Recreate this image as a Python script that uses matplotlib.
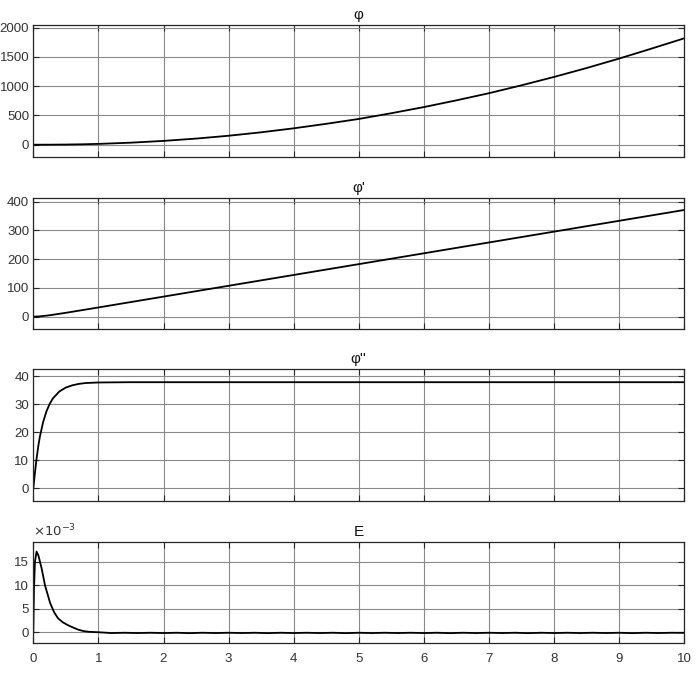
import matplotlib
matplotlib.use("Agg")
import matplotlib.pyplot as plt

plt.rcParams['font.family'] = ['Liberation Sans', 'DejaVu Sans']

# time samples (s)
t_main = [0, 0.1, 0.25, 0.5, 0.75, 1, 1.5, 2, 2.5, 3, 3.5, 4, 4.5, 5, 5.5, 6, 6.5,
          7, 7.5, 8, 8.5, 9, 9.5, 10]
phi = [0, 0.04, 0.45, 2.7, 7.2, 14, 34.8, 65, 104.5, 153, 212, 280, 357, 440, 538, 643, 758,
       880, 1015, 1158, 1310, 1472, 1643, 1818]
dphi = [0, 1.0, 4.8, 13.4, 22.7, 32, 50.9, 69.7, 88.6, 107.4, 126.3, 145.1, 164.0, 182.8,
        201.7, 220.5, 239.4, 258.2, 277.1, 295.9, 314.8, 333.6, 352.5, 371.3]

t_acc = [0, 0.025, 0.05, 0.075, 0.1, 0.15, 0.2, 0.25, 0.3, 0.4, 0.5, 0.6, 0.7, 0.8, 1.0,
         1.5, 2, 3, 4, 5, 6, 7, 8, 9, 10]
ddphi = [0, 5.5, 10.5, 14.8, 18.3, 23.5, 27.3, 30.0, 32.0, 34.5, 35.9, 36.7, 37.2, 37.5, 37.7,
         37.8, 37.8, 37.8, 37.8, 37.8, 37.8, 37.8, 37.8, 37.8, 37.8]

t_err = [0, 0.01, 0.025, 0.05, 0.08, 0.13, 0.18, 0.26, 0.32, 0.38, 0.46, 0.54, 0.62, 0.69, 0.77, 0.85, 1.0,
         1.2, 1.4, 1.6, 1.8, 2.0, 2.2, 2.4, 2.6, 2.8, 3.0, 3.2, 3.4, 3.6, 3.8, 4.0,
         4.2, 4.4, 4.6, 4.8, 5.0, 5.2, 5.4, 5.6, 5.8, 6.0, 6.2, 6.4, 6.6, 6.8, 7.0,
         7.2, 7.4, 7.6, 7.8, 8.0, 8.2, 8.4, 8.6, 8.8, 9.0, 9.2, 9.4, 9.6, 9.8, 10.0]
err_milli = [0, 9, 15, 17.2, 16.3, 13.5, 10.0, 6.2, 4.3, 3.0, 2.1, 1.5, 1.0, 0.6, 0.3, 0.15, 0.05,
             -0.12, -0.06, -0.12, -0.06, -0.12, -0.06, -0.14, -0.06, -0.12, -0.06, -0.12, -0.06, -0.14, -0.06, -0.12,
             -0.06, -0.12, -0.06, -0.14, -0.06, -0.12, -0.06, -0.12, -0.06, -0.12, -0.06, -0.14, -0.06, -0.12, -0.06,
             -0.12, -0.06, -0.14, -0.06, -0.12, -0.06, -0.12, -0.06, -0.12, -0.06, -0.14, -0.06, -0.12, -0.06, -0.08]

titles = ["φ", "φ'", "φ''", "E"]
yticks = [[0, 500, 1000, 1500, 2000], [0, 100, 200, 300, 400], [0, 10, 20, 30, 40], [0, 5, 10, 15]]
ylims = [(-210, 2045), (-44, 414), (-4.5, 42.5), (-2.3, 19.3)]
xticks = list(range(0, 11))

fig = plt.figure(figsize=(7.0, 6.88), dpi=100)
rects = [
    [33.3 / 700, 1 - 157 / 688, 651 / 700, 132 / 688],
    [33.3 / 700, 1 - 329.3 / 688, 651 / 700, 131.6 / 688],
    [33.3 / 700, 1 - 501 / 688, 651 / 700, 132 / 688],
    [33.3 / 700, 1 - 643.3 / 688, 651 / 700, 101.6 / 688],
]
series = [(t_main, phi), (t_main, dphi), (t_acc, ddphi), (t_err, err_milli)]
frame = '#262626'
for i, (r, (tx, yv)) in enumerate(zip(rects, series)):
    ax = fig.add_axes(r)
    ax.plot(tx, yv, color='black', lw=1.3)
    ax.set_xlim(0, 10)
    ax.set_ylim(*ylims[i])
    ax.set_xticks(xticks)
    ax.set_yticks(yticks[i])
    ax.grid(True, color='#8a8a8a', lw=0.8)
    ax.set_axisbelow(True)
    ax.tick_params(direction='in', top=True, right=True, length=4, width=0.8,
                   colors=frame, labelsize=9.5, labelcolor='#333333')
    ax.tick_params(axis='y', pad=3)
    ax.tick_params(axis='x', pad=7)
    for s in ax.spines.values():
        s.set_color(frame)
        s.set_linewidth(0.9)
    if i < 3:
        ax.tick_params(labelbottom=False)
    ax.set_title(titles[i], fontsize=11, color='#111111', pad=4)
    if i == 3:
        ax.text(0.0, 1.02, r'$\times10^{-3}$', transform=ax.transAxes, fontsize=9.5,
                color='#333333', ha='left', va='bottom')

fig.savefig('out.png', dpi=100)
